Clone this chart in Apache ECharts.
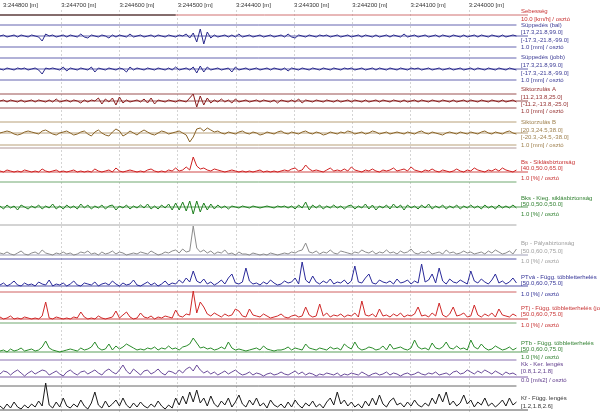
<!DOCTYPE html>
<html><head><meta charset="utf-8">
<script src="https://cdn.jsdelivr.net/npm/echarts@6/dist/echarts.min.js"></script>
<style>html,body{margin:0;padding:0;background:#fff}#c{width:600px;height:413px}</style>
</head><body><div id="c"></div>
<script>
// chainage axis
const X_START = 244800;
const X_STEP = 6;
const X_MIN = 243900;
const X_MAX = 244800;
const X_TICK = 100;
const SPEED_RANGE = [244800, 244500];

// series values (offset from each track's zero line, 1 unit = 1 division step)
const supBal = [0,1,-1,0,1,-1,1,0,-1,1, 0,-1,-5,2,0,1,-1,0,1,-1, 1,0,-1,2,-1,-2,1,0,-1,1, 0,-2,1,-1,1,0,-1,2,-1,0, 1,-1,0,1,-1,1,0,-1,1,0, -1,1,0,2,-2,3,-6,7,-8,4, -2,1,-1,0,1,-1,1,-1,2,-1, 0,1,-1,0,1,-1,0,1,-1,0, 1,-1,2,-1,-2,1,0,-1,1,0, -1,1,0,1,-1,0,1,-1,0,1, -1,0,1,-1,1,0,-1,1,-1,0, 1,-1,1,0,-1,2,-1,0,1,-1, 0,1,-1,0,1,-1,1,0,-1,1, 0,-1,1,-1,0,1,-1,1,0,-1, 1,0,-1,1,-1,0,1,0];
const supJobb = [0,-1,1,0,-1,1,0,1,-1,0, 1,-1,-5,1,0,1,0,-1,2,-2, 1,0,-1,1,0,-1,2,-3,1,0, -1,1,0,-1,1,0,-3,2,-1,1, 0,-1,1,0,-1,1,0,-1,1,-1, 2,-1,0,1,-1,2,-4,3,-3,2, -1,0,1,-1,0,1,-3,2,-1,0, 1,-1,0,1,-1,0,1,-1,1,0, -1,1,-2,1,0,-1,1,0,-1,1, 0,-1,1,0,-1,1,0,-1,1,0, 1,-1,0,1,-1,0,1,-1,1,0, -1,1,0,-1,1,0,-1,1,0,1, -1,0,1,-1,0,1,-1,0,1,-1, 0,1,-1,0,1,-1,1,0,-1,1, 0,-1,1,0,-1,1,0,-1];
const sikA = [0,1,-1,1,0,-1,1,-1,0,1, -1,1,0,-1,1,-1,2,-1,0,1, -1,1,0,-2,1,-1,1,0,3,-3, 2,-1,3,-4,4,-2,1,-1,0,1, -1,2,-2,3,-3,1,0,-1,1,0, -1,1,0,-1,3,7,-6,5,-4,3, -2,1,-1,2,-1,1,-2,2,-1,0, 1,-1,0,1,-1,1,0,-1,1,-2, 1,0,-1,1,-1,2,-2,1,0,-1, 1,0,-1,1,0,-1,1,-1,0,1, -1,1,0,-1,1,-1,0,1,-1,1, 0,-1,1,0,-1,1,-1,0,1,-1, 1,0,-1,1,0,-1,1,0,-1,1, -1,0,1,-1,1,0,-1,1,0,-1, 1,0,-1,1,-1,0,1,-1];
const sikB = [0,1,2,1,-1,-2,-1,1,2,1, 0,-1,2,3,1,-1,-2,0,1,2, 0,-2,-1,1,2,-1,-3,1,3,0, -2,-3,1,4,2,-3,-1,2,0,-2, 1,3,1,-1,-2,0,2,1,-1,0, 1,2,0,-2,-9,-4,4,5,2,5, 3,1,2,0,-1,1,0,-1,1,2, 0,-1,1,0,-2,-1,1,0,-1,1, 2,0,-1,1,0,-1,1,2,0,-1, 1,0,-2,-1,1,0,-1,1,0,2, 1,-1,0,1,-1,0,2,1,-1,0, 1,-1,0,1,0,-1,1,0,-1,1, 2,0,-1,1,0,-1,-2,0,1,0, -1,1,0,-1,1,0,-1,1,2,0, -1,1,0,-1,1,2,0,-1];
const bs = [1,0,2,1,0,1,0,2,1,0, 1,0,3,1,0,1,2,0,1,0, 1,2,0,1,0,1,0,3,1,0, 1,2,0,4,1,0,1,2,1,0, 1,0,2,3,1,0,1,0,2,1, 4,1,2,5,2,15,6,3,4,2, 1,3,2,1,0,1,2,1,0,1, 0,1,0,1,2,0,1,0,1,0, 1,2,1,3,4,1,2,7,3,1, 2,1,0,2,4,1,2,1,3,1, 5,2,1,0,2,1,3,1,0,2, 1,2,4,1,2,3,1,5,2,1, 0,2,1,3,1,0,2,1,0,1, 3,1,0,2,1,4,2,1,0,2, 1,3,1,4,2,1,0,2];
const bks = [1,-2,2,-1,1,-3,2,0,-2,1, -1,2,-2,1,-1,3,-2,1,-2,2, -1,1,-2,3,-1,2,-2,1,-1,2, -2,1,2,-3,1,-1,2,-2,1,-1, 2,-1,3,-2,1,-2,2,-1,3,-3, 4,-3,5,-4,6,-7,6,-5,4,-3, 3,-2,2,-1,1,-2,1,0,-1,1, 0,-1,1,0,-1,0,1,0,-1,1, 0,1,-1,1,-2,2,-1,5,-3,2, -1,2,-2,1,-1,2,-1,1,-2,1, 2,-2,1,-1,3,-2,2,-3,1,-1, 2,-2,3,-1,2,-3,2,-1,1,-2, 2,-1,3,-2,1,-1,2,-2,1,-1, 2,-2,1,-1,2,-1,1,-2,2,-1, 1,-2,2,-1,1,-1,2,-1];
const bp = [2,1,3,1,0,2,4,1,0,2, 3,1,5,2,1,0,2,1,3,1, 2,0,1,3,2,4,1,2,0,3, 1,2,4,1,3,2,0,1,2,1, 3,2,1,4,2,0,1,3,2,4, 5,2,6,3,4,29,7,3,5,2, 4,1,3,2,5,1,2,0,3,1, 1,0,2,1,0,1,0,2,1,0, 1,2,1,3,2,4,5,12,3,2, 4,1,3,2,5,2,1,4,3,2, 1,3,2,5,3,2,4,1,3,2, 5,2,3,1,4,2,3,6,2,1, 3,2,4,1,2,3,1,5,2,3, 1,2,4,2,3,1,2,3,1,4, 2,5,3,1,2,4,1,6];
const ptva = [1,3,0,2,5,1,0,3,1,2, 0,4,2,1,6,0,2,1,3,0, 2,5,1,0,3,2,1,4,0,2, 3,1,5,2,0,3,1,2,6,1, 0,2,4,1,3,0,2,5,1,3, 2,6,3,8,4,15,5,3,7,2, 4,1,3,6,2,8,12,3,2,4, 18,5,2,3,1,4,2,6,3,1, 2,5,3,4,8,2,24,6,3,10, 4,2,5,3,7,2,4,3,6,2, 5,20,4,3,8,12,3,2,6,4, 3,5,2,7,3,4,6,2,5,3, 22,4,6,12,3,18,5,2,7,4, 3,6,4,2,15,5,3,7,4,2, 6,12,3,5,2,4,8,3];
const ptj = [2,0,1,3,0,1,0,2,1,0, 1,0,3,17,1,0,2,1,0,1, 0,2,1,7,2,0,1,0,3,1, 0,1,2,8,1,4,7,2,0,1, 6,2,1,3,0,2,1,3,2,1, 9,3,2,5,4,28,6,17,12,5, 3,6,4,2,5,3,4,10,8,3, 2,10,4,3,2,5,3,1,2,3, 5,2,1,3,4,2,3,12,4,2, 3,15,3,6,2,4,3,5,2,4, 3,6,2,18,4,3,5,2,10,3, 4,2,5,3,6,2,4,3,5,12, 3,4,2,6,3,16,4,2,5,12, 3,4,6,2,3,14,4,2,5,3, 6,2,10,4,3,2,5,3];
const ptb = [1,2,0,3,1,2,4,1,2,3, 1,2,5,11,4,2,1,0,1,2, 3,2,1,4,2,3,5,10,4,2, 3,8,2,6,3,5,8,6,4,2, 3,2,4,3,5,2,4,3,6,3, 4,2,5,6,8,14,9,4,5,3, 4,2,3,5,3,10,4,2,3,2, 1,2,3,4,2,6,3,2,1,2, 2,3,5,2,4,3,2,8,4,3, 2,4,3,2,5,3,4,2,8,5, 3,10,4,2,3,5,4,2,3,6, 2,8,3,4,5,3,2,4,12,5, 3,4,2,9,4,3,5,10,4,3, 6,3,4,2,12,5,3,8,4,2, 3,6,4,2,3,5,2,4];
const kk = [3,6,5,2,5,7,4,1,4,6, 3,5,7,6,2,4,6,3,1,5, 7,4,2,5,6,3,5,7,4,2, 6,8,5,3,7,12,6,3,8,5, 2,6,7,3,5,8,4,2,6,5, 3,7,4,8,10,6,12,7,4,6, 3,5,2,4,6,3,5,7,4,2, 3,5,2,4,3,1,3,4,2,3, 5,3,2,4,6,3,5,2,4,3, 1,3,2,4,3,2,4,1,3,2, 4,3,2,5,3,1,3,4,2,3, 5,2,4,3,1,3,4,2,3,5, 3,2,4,3,5,2,3,4,2,5, 6,3,4,7,5,3,6,4,7,5, 3,6,4,2,5,3,4,2];
const kf = [4,1,6,2,8,3,1,5,2,6, 3,9,4,27,5,2,8,3,12,4, 2,6,3,10,4,1,7,18,5,2, 9,3,6,10,4,12,5,2,7,3, 8,4,2,6,3,9,4,1,5,2, 12,5,14,6,18,8,20,7,12,4, 14,6,3,9,5,12,3,8,15,6, 3,10,5,12,4,7,2,10,5,3, 6,2,8,3,10,5,2,7,4,9, 3,6,2,8,12,5,18,6,10,4, 8,3,6,2,9,4,12,5,15,6, 3,9,12,5,7,3,8,4,10,5, 3,7,4,12,6,16,8,18,5,9, 4,7,15,6,10,3,8,5,12,4, 7,3,6,10,4,12,5,8];

// layout / style (not data)
const FONT = '"Liberation Sans", Arial, sans-serif';
const H = 413;
const tracks = [
  {ref:15, data:null, color:'#222', base:'#d07070', lines:[], labels:[['Sebesség',11],['10.0 [km/h] / osztó',19]], lc:'#c83232'},
  {ref:36, data:supBal, color:'#2a2a8c', base:'#6464b0', lines:[[11,'#6464b0'],[-11,'#6464b0']], labels:[['Süppedés (bal)',25],['[17.3,21.8,99.0]',32],['[-17.3,-21.8,-99.0]',40],['1.0 [mm] / osztó',47]], lc:'#3c3c96'},
  {ref:69, data:supJobb, color:'#2a2a8c', base:'#6464b0', lines:[[11,'#6464b0'],[-11,'#6464b0']], labels:[['Süppedés (jobb)',57],['[17.3,21.8,99.0]',65],['[-17.3,-21.8,-99.0]',73],['1.0 [mm] / osztó',80]], lc:'#3c3c96'},
  {ref:101, data:sikA, color:'#8a1c1c', base:'#9a4a4a', lines:[[7,'#9a5050'],[-7,'#9a5050']], labels:[['Siktorzulás A',89],['[11.2,13.8,25.0]',97],['[-11.2,-13.8,-25.0]',104],['1.0 [mm] / osztó',111]], lc:'#963232'},
  {ref:133, data:sikB, color:'#8a6428', base:'#b8a078', lines:[[11,'#b8a078'],[-12,'#b8a078']], labels:[['Siktorzulás B',122],['[20.3,24.5,38.0]',130],['[-20.3,-24.5,-38.0]',137],['1.0 [mm] / osztó',145]], lc:'#a08250'},
  {ref:172, data:bs, color:'#d02020', base:'#d04848', lines:[[24,'#b09898']], labels:[['Bs - Siklásbiztonság',162],['[40.0,50.0,65.0]',168],['1.0 [%] / osztó',178]], lc:'#c83232'},
  {ref:207, data:bks, color:'#1e801e', base:'#5aa05a', lines:[[25,'#70a870']], labels:[['Bks - Kieg. siklásbiztonság',198],['[50.0,50.0,50.0]',204],['1.0 [%] / osztó',214]], lc:'#328232'},
  {ref:255, data:bp, color:'#8c8c8c', base:'#a0a0b8', lines:[[30,'#a8a8a8']], labels:[['Bp - Pályabiztonság',243],['[50.0,60.0,75.0]',251],['1.0 [%] / osztó',261]], lc:'#a0a0a0'},
  {ref:286, data:ptva, color:'#2a2a9a', base:'#5050a8', lines:[[27,'#5050a8']], labels:[['PTvá - Függ. többletterhelés',277],['[50.0,60.0,75.0]',283],['1.0 [%] / osztó',294]], lc:'#323296'},
  {ref:319, data:ptj, color:'#d02828', base:'#d04848', lines:[[27,'#d06060']], labels:[['PTj - Függ. többletterhelés (jobb)',308],['[50.0,60.0,75.0]',314],['1.0 [%] / osztó',325]], lc:'#c83232'},
  {ref:352, data:ptb, color:'#2a8c2a', base:'#5aa05a', lines:[[29,'#70a870']], labels:[['PTb - Függ. többletterhelés',343],['[50.0,60.0,75.0]',349],['1.0 [%] / osztó',357]], lc:'#328232'},
  {ref:377, data:kk, color:'#6a4a9a', base:'#8060a8', lines:[[17,'#8a70b0']], labels:[['Kk - Ker. lengés',364],['[0.8,1.2,1.8]',371],['0.0 [m/s2] / osztó',380]], lc:'#603c8c'},
  {ref:410, data:kf, color:'#1a1a1a', base:'#555', lines:[[24,'#666']], labels:[['Kf - Függ. lengés',398],['[1.2,1.8,2.6]',406]], lc:'#333'}
];
const PLOT_W = 527;
const DATA_END = 243918;
const LINE_END = 243775; // extends zero line through the label column

const chart = echarts.init(document.getElementById('c'), null, {renderer:'canvas'});
const grid = [{left:0, width:PLOT_W, top:10, bottom:0}];
const xAxis = [{
  gridIndex:0, type:'value', min:X_MIN, max:X_MAX, interval:X_TICK, inverse:true, position:'top',
  axisLine:{show:false}, axisTick:{show:false},
  axisLabel:{show:true, margin:2, align:'left', fontSize:6, fontFamily:FONT, color:'#333',
    formatter: v => v === X_MIN ? '' : '3:' + v + ' [m]'},
  splitLine:{show:true, showMinLine:false, showMaxLine:false, lineStyle:{color:'#d4d4d4', type:[2,2], width:1}}
}];
const yAxis = [{gridIndex:0, type:'value', show:false, min:0, max:1}];
const series = [];
const graphic = [];

tracks.forEach((t, k) => {
  const gi = k + 1;
  const up = Math.min(40, t.ref), down = Math.min(40, H - t.ref);
  grid.push({left:0, width:PLOT_W, top:t.ref - up, height:up + down});
  xAxis.push({gridIndex:gi, type:'value', min:X_MIN, max:X_MAX, inverse:true, show:false});
  yAxis.push({gridIndex:gi, type:'value', min:-down, max:up, show:false});
  const ln = (data, color, z) => ({type:'line', xAxisIndex:gi, yAxisIndex:gi, data, showSymbol:false, symbol:'none',
    clip:false, silent:true, z, lineStyle:{color, width:1}});
  series.push(ln([[X_START,0],[LINE_END,0]], t.base, 1));
  t.lines.forEach(([off, c]) => series.push(ln([[X_START,off],[DATA_END,off]], c, 1)));
  if (t.data) {
    series.push(ln(t.data.map((v,i) => [X_START - X_STEP*i, v]), t.color, 3));
  } else {
    series.push(ln([[SPEED_RANGE[0],0],[SPEED_RANGE[1],0]], t.color, 3));
  }
  t.labels.forEach(([txt, y]) => graphic.push({type:'text', x:521, y:y, z:10,
    style:{text:txt, fill:t.lc, fontSize:6, fontFamily:FONT, verticalAlign:'middle', textVerticalAlign:'middle'}}));
});

chart.setOption({backgroundColor:'#fff', animation:false, grid, xAxis, yAxis, series, graphic});
</script></body></html>
